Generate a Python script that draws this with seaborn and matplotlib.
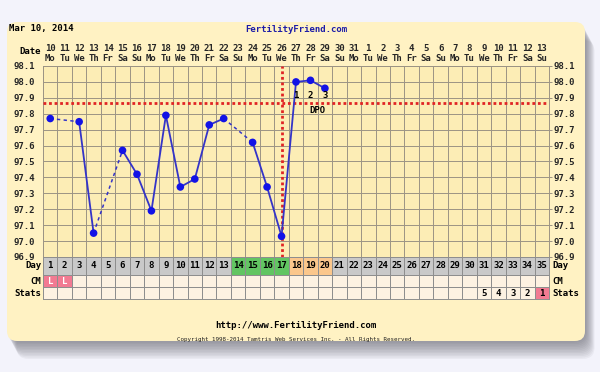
import numpy as np
import matplotlib
matplotlib.use("Agg")
import matplotlib.pyplot as plt
import seaborn as sns
from matplotlib.patches import FancyBboxPatch
from matplotlib.colors import ListedColormap

# ---------------- data ----------------
chart_date = "Mar 10, 2014"
site_title = "FertilityFriend.com"
site_url = "http://www.FertilityFriend.com"
copyright_text = "Copyright 1998-2014 Tamtris Web Services Inc. - All Rights Reserved."

cycle_days = [1, 2, 3, 4, 5, 6, 7, 8, 9, 10, 11, 12, 13, 14, 15, 16, 17, 18,
              19, 20, 21, 22, 23, 24, 25, 26, 27, 28, 29, 30, 31, 32, 33, 34, 35]
dates = ["10", "11", "12", "13", "14", "15", "16", "17", "18", "19", "20", "21",
         "22", "23", "24", "25", "26", "27", "28", "29", "30", "31", "1", "2",
         "3", "4", "5", "6", "7", "8", "9", "10", "11", "12", "13"]
weekdays = ["Mo", "Tu", "We", "Th", "Fr", "Sa", "Su", "Mo", "Tu", "We", "Th", "Fr",
            "Sa", "Su", "Mo", "Tu", "We", "Th", "Fr", "Sa", "Su", "Mo", "Tu", "We",
            "Th", "Fr", "Sa", "Su", "Mo", "Tu", "We", "Th", "Fr", "Sa", "Su"]

# temperatures (None = not recorded)
temps = [97.77, None, 97.75, 97.05, None, 97.57, 97.42, 97.19, 97.79, 97.34,
         97.39, 97.73, 97.77, None, 97.62, 97.34, 97.03, 98.00, 98.01, 97.96]

temp_ticks = [96.9, 97.0, 97.1, 97.2, 97.3, 97.4, 97.5, 97.6, 97.7, 97.8, 97.9, 98.0, 98.1]
coverline = 97.87
ovulation_day = 17
dpo_days = [18, 19, 20]
dpo_labels = ["1", "2", "3"]

fertile_days = [14, 15, 16, 17]
luteal_days = [18, 19, 20]
cm_days = [1, 2]
cm_labels = ["L", "L"]
stats_days = [31, 32, 33, 34, 35]
stats_labels = ["5", "4", "3", "2", "1"]
stats_highlight = [35]

# ---------------- styling ----------------
sns.set_style("white")
plt.rcParams['font.family'] = ['DejaVu Sans Mono', 'DejaVu Sans']
FS = 6.5
TXT = dict(fontsize=FS, fontweight='bold', color='black')
GRID_C = '#9c9484'

W, H = 600, 372
fig = plt.figure(figsize=(6, 3.72), dpi=100)
fig.patch.set_facecolor('#f3f3fb')


def px(l, t, r, b):
    return [l / W, 1 - b / H, (r - l) / W, (b - t) / H]


# background panel with shadow
bg = fig.add_axes([0, 0, 1, 1])
bg.set_xlim(0, W)
bg.set_ylim(H, 0)
bg.axis('off')
for k in range(1, 13):
    bg.add_patch(FancyBboxPatch((7 + k * 0.8, 22 + k * 1.5), 578, 319,
                                boxstyle="round,pad=0,rounding_size=12",
                                fc='#50505a', ec='none', alpha=0.06))
bg.add_patch(FancyBboxPatch((7, 22), 578, 319, boxstyle="round,pad=0,rounding_size=10",
                            fc='#fff2c3', ec='none'))

bg.text(9, 29, chart_date, ha='left', va='center', **TXT)
bg.text(296, 29, site_title, ha='center', va='center', fontsize=FS, fontweight='bold', color='#1c1ca8')
bg.text(41, 52, "Date", ha='right', va='center', **TXT)
bg.text(296, 326, site_url, ha='center', va='center', **TXT)
bg.text(296, 339, copyright_text, ha='center', va='center', fontsize=4.2, color='#222222')

# ---------------- temperature chart ----------------
GL, GR, GT, GB = 43, 549, 66, 257
ax = fig.add_axes(px(GL, GT, GR, GB))
ax.set_facecolor('#fcedb5')
ax.set_xlim(0.5, 35.5)
ax.set_ylim(temp_ticks[0], temp_ticks[-1])

ax.set_xticks(cycle_days)
ax.set_xticklabels([f"{d}\n{w}" for d, w in zip(dates, weekdays)], fontsize=FS,
                   fontweight='bold', linespacing=1.15)
ax.set_xticks([d - 0.5 for d in cycle_days] + [cycle_days[-1] + 0.5], minor=True)
ax.xaxis.set_ticks_position('top')
ax.tick_params(axis='x', which='both', length=0, pad=2)
ax.grid(which='minor', axis='x', color=GRID_C, lw=0.7)
ax.grid(which='major', axis='x', visible=False)

ax.set_yticks(temp_ticks)
ax.set_yticklabels([f"{t:.1f}" for t in temp_ticks], fontsize=FS, fontweight='bold')
ax.tick_params(axis='y', length=0, pad=6)
ax.grid(which='major', axis='y', color=GRID_C, lw=0.7)
for s in ax.spines.values():
    s.set_color(GRID_C)
    s.set_linewidth(0.7)

ax2 = ax.twinx()
ax2.set_ylim(temp_ticks[0], temp_ticks[-1])
ax2.set_yticks(temp_ticks)
ax2.set_yticklabels([f"{t:.1f}" for t in temp_ticks], fontsize=FS, fontweight='bold')
ax2.tick_params(axis='y', length=2, width=0.7, color=GRID_C, pad=1)
for s in ax2.spines.values():
    s.set_visible(False)

# coverline & ovulation line
ax.axhline(coverline, color='#e02424', lw=2, ls=(0, (1, 1)), zorder=3)
ax.axvline(ovulation_day, color='#e02424', lw=2, ls=(0, (1, 1)), zorder=3)

# temperature line: solid between consecutive days, dashed over gaps
rec_days = [d for d, t in zip(cycle_days, temps) if t is not None]
rec_temps = [t for t in temps if t is not None]
for (d0, t0), (d1, t1) in zip(zip(rec_days, rec_temps), zip(rec_days[1:], rec_temps[1:])):
    if d1 - d0 == 1:
        ax.plot([d0, d1], [t0, t1], color='#3434c8', lw=1.3, zorder=4, solid_capstyle='round')
    else:
        ax.plot([d0, d1], [t0, t1], color='#3434c8', lw=1.1, ls=(0, (2.2, 2.2)), zorder=4)
sns.scatterplot(x=rec_days, y=rec_temps, ax=ax, color='#1212e6', s=30,
                edgecolor='none', zorder=5, legend=False)

for d, lbl in zip(dpo_days, dpo_labels):
    ax.text(d, 97.915, lbl, ha='center', va='center', **TXT, zorder=6)
ax.text(19.45, 97.82, "DPO", ha='center', va='center', **TXT, zorder=6)
ax.set_xlabel("")
ax.set_ylabel("")

# ---------------- table rows ----------------
cell_colors = ['#c9c9c9', '#62c562', '#fbc78c', '#fdf2e2', '#f27a92']
cell_cmap = ListedColormap(cell_colors)

day_codes = [1 if d in fertile_days else 2 if d in luteal_days else 0 for d in cycle_days]
day_text = [str(d) for d in cycle_days]
cm_codes = [4 if d in cm_days else 3 for d in cycle_days]
cm_text = [cm_labels[cm_days.index(d)] if d in cm_days else "" for d in cycle_days]
st_codes = [4 if d in stats_highlight else 3 for d in cycle_days]
st_text = [stats_labels[stats_days.index(d)] if d in stats_days else "" for d in cycle_days]

rows = [("Day", 257, 275, day_codes, day_text),
        ("CM", 275, 287, cm_codes, cm_text),
        ("Stats", 287, 299, st_codes, st_text)]
for name, t, b, codes, texts in rows:
    rax = fig.add_axes(px(GL, t, GR, b))
    sns.heatmap(np.array([codes]), ax=rax, cmap=cell_cmap, vmin=-0.5, vmax=4.5,
                cbar=False, annot=np.array([texts]), fmt="", linewidths=0.7,
                linecolor='#8e8e8e',
                annot_kws=dict(fontsize=FS, fontweight='bold', color='black'))
    for tx in rax.texts:
        if tx.get_text() in cm_labels:
            tx.set_color('white')
    rax.set_xticks([])
    rax.set_yticks([])
    for s in rax.spines.values():
        s.set_visible(True)
        s.set_color('#8e8e8e')
        s.set_linewidth(0.7)
    bg.text(41, (t + b) / 2, name, ha='right', va='center', **TXT)
    bg.text(552, (t + b) / 2, name, ha='left', va='center', **TXT)

fig.savefig("out.png", dpi=100, facecolor=fig.get_facecolor())
